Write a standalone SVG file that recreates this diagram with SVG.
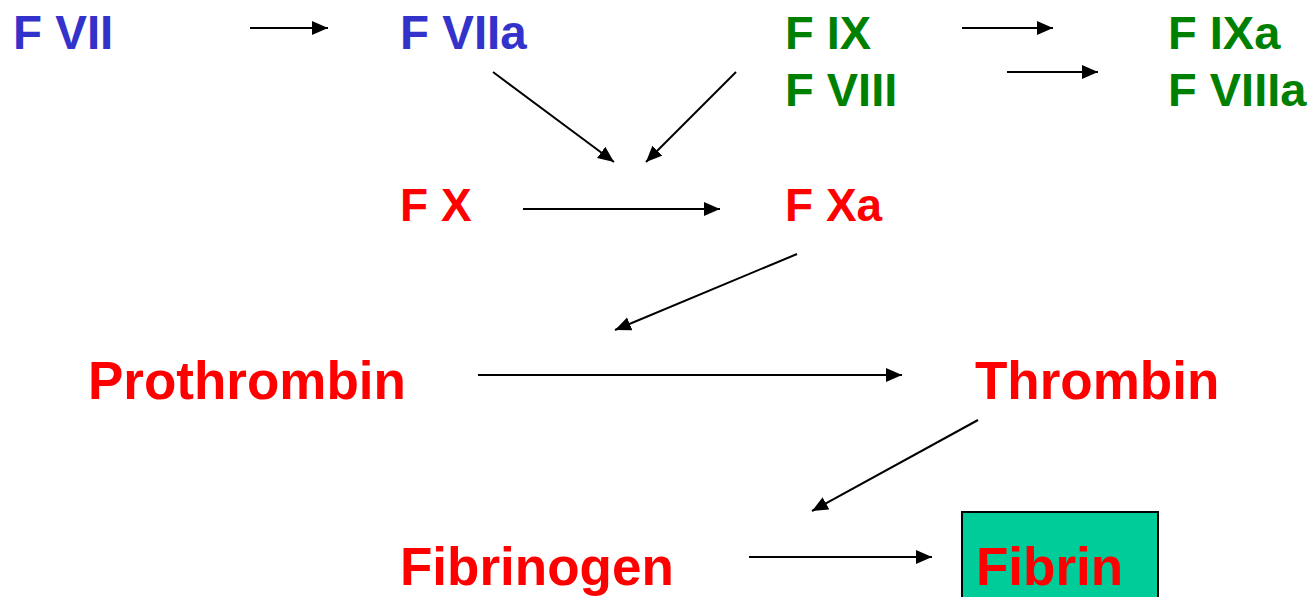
<svg xmlns="http://www.w3.org/2000/svg" width="1312" height="597" viewBox="0 0 1312 597">
<style>
text{font-family:"Liberation Sans",Arial,sans-serif;font-weight:bold}
.b{fill:#3333CC;font-size:47.5px}
.g{fill:#008000;font-size:47px}
.r1{fill:#FF0000;font-size:46px}
.r2{fill:#FF0000;font-size:53px}
.c{stroke:#000;stroke-width:2;fill:none;marker-end:url(#ah)}
</style>
<defs>
<marker id="ah" markerUnits="userSpaceOnUse" markerWidth="18" markerHeight="16" refX="16" refY="7" orient="auto">
<path d="M0,0 L16,7 L0,14 z" fill="#000"/>
</marker>
</defs>
<rect width="1312" height="597" fill="#fff"/>
<g id="connectors">
<line class="c" x1="250" y1="28" x2="328" y2="28"/>
<line class="c" x1="962" y1="28" x2="1053" y2="28"/>
<line class="c" x1="1007" y1="72" x2="1098" y2="72"/>
<line class="c" x1="493" y1="72" x2="614" y2="162"/>
<line class="c" x1="736" y1="72" x2="646" y2="162"/>
<line class="c" x1="523" y1="209" x2="720" y2="209"/>
<line class="c" x1="797" y1="254" x2="615" y2="330"/>
<line class="c" x1="478" y1="375" x2="902" y2="375"/>
<line class="c" x1="978" y1="420" x2="812" y2="511"/>
<line class="c" x1="749" y1="557" x2="932" y2="557"/>
</g>
<g id="fvii"><text class="b" x="13" y="49">F VII</text></g>
<g id="fviia"><text class="b" x="400" y="49">F VIIa</text></g>
<g id="fix"><text class="g" x="785" y="49">F IX</text></g>
<g id="fviii"><text class="g" x="785" y="106">F VIII</text></g>
<g id="fixa"><text class="g" x="1168" y="49">F IXa</text></g>
<g id="fviiia"><text class="g" x="1168" y="106">F VIIIa</text></g>
<g id="fx"><text class="r1" x="400" y="221">F X</text></g>
<g id="fxa"><text class="r1" x="785" y="221">F Xa</text></g>
<g id="prothrombin"><text class="r2" x="88" y="399">Prothrombin</text></g>
<g id="thrombin"><text class="r2" x="975" y="399">Thrombin</text></g>
<g id="fibrinogen"><text class="r2" x="400" y="585">Fibrinogen</text></g>
<g id="fibrin">
<rect x="962" y="512" width="196" height="95" fill="#00CC99" stroke="#000" stroke-width="2"/>
<text class="r2" x="976" y="585">Fibrin</text>
</g>
</svg>
